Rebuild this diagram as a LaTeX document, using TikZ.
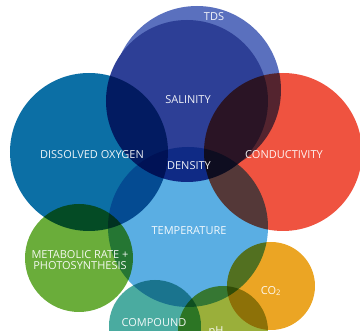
\documentclass[tikz,border=0pt]{standalone}
\usepackage{fontspec}
\setmainfont{Open Sans}
\usepackage{tikz}
\usetikzlibrary{positioning}

\definecolor{tdsblue}{HTML}{5A70BE}
\definecolor{salblue}{HTML}{2D3F96}
\definecolor{oxyblue}{HTML}{0C6FA5}
\definecolor{condred}{HTML}{EF5340}
\definecolor{tempblue}{HTML}{5AAEE3}
\definecolor{metgreen}{HTML}{6AAD3A}
\definecolor{coorange}{HTML}{EBA524}
\definecolor{compteal}{HTML}{4AABA0}
\definecolor{pholive}{HTML}{9AAF3A}

\tikzset{
  blob/.style={circle, inner sep=0pt, draw=none},
  lbl/.style={text=white, text opacity=0.92, font=\fontsize{11}{12.5}\selectfont, align=center}
}

\begin{document}
\begin{tikzpicture}[x=1pt, y=-1pt]
\useasboundingbox (0,0) rectangle (360,331);
\clip (0,0) rectangle (360,331);

% the two top circles lie flat on each other
\node[blob, fill=tdsblue, minimum size=168pt] (tds) at (197,90) {};
\node[blob, fill=salblue, minimum size=162pt] (salinity) at (187,101) {};

% all the others darken what is under them
\begin{scope}[blend mode=multiply]
\node[blob, fill=oxyblue, minimum size=158pt] (oxygen) at (89,152) {};
\node[blob, fill=condred, minimum size=158pt] (conductivity) at (283,152) {};
\node[blob, fill=tempblue, minimum size=160pt] (temperature) at (188,227) {};
\node[blob, fill=metgreen, minimum size=108pt] (metabolic) at (79,258) {};
\node[blob, fill=coorange, minimum size=88pt] (co2) at (271,286) {};
\node[blob, fill=compteal, minimum size=92pt] (compound) at (155,326) {};
\node[blob, fill=pholive, minimum size=90pt] (ph) at (223,331) {};
\end{scope}

\node[lbl] (tdslbl) at (214,17) {TDS};
\node[lbl] (sallbl) at (188,100) {SALINITY};
\node[lbl] (oxylbl) at (92,155) {DISSOLVED OXYGEN};
\node[lbl] (denslbl) at (189,166) {DENSITY};
\node[lbl] (condlbl) at (284,155) {CONDUCTIVITY};
\node[lbl] (templbl) at (189,231) {TEMPERATURE};
\node[lbl] (metlbl) at (80,260) {METABOLIC RATE +\\[-1pt]PHOTOSYNTHESIS};
\node[lbl] (colbl) at (271,291) {CO\textsubscript{2}};
\node[lbl] (complbl) at (154,323) {COMPOUND};
\node[lbl] (phlbl) at (216,332) {pH};
\end{tikzpicture}
\end{document}
